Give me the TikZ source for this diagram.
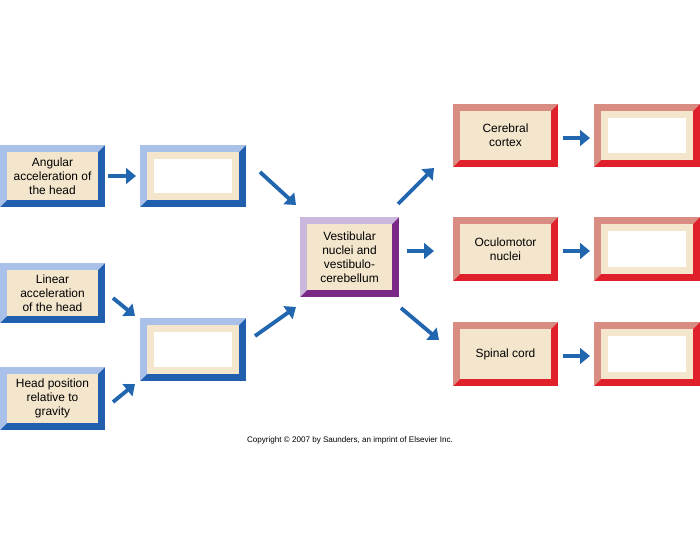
\documentclass[tikz,border=0pt]{standalone}
\usepackage{fontspec}
\setmainfont{Liberation Sans}
\usetikzlibrary{arrows.meta}
\definecolor{beige}{HTML}{F3E6CC}
\definecolor{bluelt}{HTML}{A9C1E8}
\definecolor{bluedk}{HTML}{1F5FAE}
\definecolor{redlt}{HTML}{D98C82}
\definecolor{reddk}{HTML}{E0202A}
\definecolor{purlt}{HTML}{CDB8DD}
\definecolor{purdk}{HTML}{7A2A86}
\definecolor{arrblue}{HTML}{2266B0}
% bevelled box: name, x1, y1, x2, y2, light, dark, blank?
\newcommand\bevbox[8]{%
  \fill[#7] (#2,#3) rectangle (#4,#5);
  \fill[#6] (#2,#3) -- (#4,#3) -- (#4-7,#3+7) -- (#2+7,#3+7) -- (#2+7,#5-7) -- (#2,#5) -- cycle;
  \fill[beige] (#2+7,#3+7) rectangle (#4-7,#5-7);
  \ifx#8b\fill[white] (#2+14,#3+14) rectangle (#4-14,#5-14);\fi
  \coordinate (#1) at ({(#2+#4)/2},{(#3+#5)/2});
}
\begin{document}
\begin{tikzpicture}[x=0.05cm,y=-0.05cm,
    lbl/.style={align=center,font=\fontsize{17}{20}\selectfont},
    arr/.style={draw=arrblue,line width=5.5pt,-{Triangle[length=14pt,width=22pt]}}]
  \useasboundingbox (0,0) rectangle (700,550);
  \bevbox{ang}{0}{145}{105}{207}{bluelt}{bluedk}{t}
  \bevbox{blankA}{140}{145}{246}{207}{bluelt}{bluedk}{b}
  \bevbox{lin}{0}{263}{105}{323}{bluelt}{bluedk}{t}
  \bevbox{pos}{0}{367}{105}{430}{bluelt}{bluedk}{t}
  \bevbox{blankB}{140}{318}{246}{381}{bluelt}{bluedk}{b}
  \bevbox{vest}{300}{217}{399}{297}{purlt}{purdk}{t}
  \bevbox{cer}{453}{104}{558}{167}{redlt}{reddk}{t}
  \bevbox{blankC}{594}{104}{700}{167}{redlt}{reddk}{b}
  \bevbox{ocu}{453}{217}{558}{281}{redlt}{reddk}{t}
  \bevbox{blankO}{594}{217}{700}{281}{redlt}{reddk}{b}
  \bevbox{spi}{453}{322}{558}{386}{redlt}{reddk}{t}
  \bevbox{blankS}{594}{322}{700}{386}{redlt}{reddk}{b}
  \node[lbl] (angT) at (ang) {Angular\\acceleration of\\the head};
  \node[lbl] (linT) at (lin) {Linear\\acceleration\\of the head};
  \node[lbl] (posT) at (pos) {Head position\\relative to\\gravity};
  \node[lbl] (vestT) at (vest) {Vestibular\\nuclei and\\vestibulo-\\cerebellum};
  \node[lbl] (cerT) at (cer) {Cerebral\\cortex};
  \node[lbl] (ocuT) at (ocu) {Oculomotor\\nuclei};
  \node[lbl] (spiT) at (spi) {Spinal cord};
  \node[font=\fontsize{11.5}{13}\selectfont] (copy) at (350,440) {Copyright © 2007 by Saunders, an imprint of Elsevier Inc.};
  % arrows
  \coordinate (a1) at (108,176); \coordinate (b1) at (136,176);
  \coordinate (a2) at (260,172); \coordinate (b2) at (296,205);
  \coordinate (a3) at (113,298); \coordinate (b3) at (135,316);
  \coordinate (a4) at (113,402); \coordinate (b4) at (135,384);
  \coordinate (a5) at (255,336); \coordinate (b5) at (296,307);
  \coordinate (a6) at (398,204); \coordinate (b6) at (434,168);
  \coordinate (a7) at (407,251); \coordinate (b7) at (434,251);
  \coordinate (a8) at (401,308); \coordinate (b8) at (439,340);
  \coordinate (a9) at (563,138); \coordinate (b9) at (590,138);
  \coordinate (a10) at (563,251); \coordinate (b10) at (590,251);
  \coordinate (a11) at (563,356); \coordinate (b11) at (590,356);
  \foreach \i in {1,...,11} \draw[arr] (a\i) -- (b\i);
\end{tikzpicture}
\end{document}
